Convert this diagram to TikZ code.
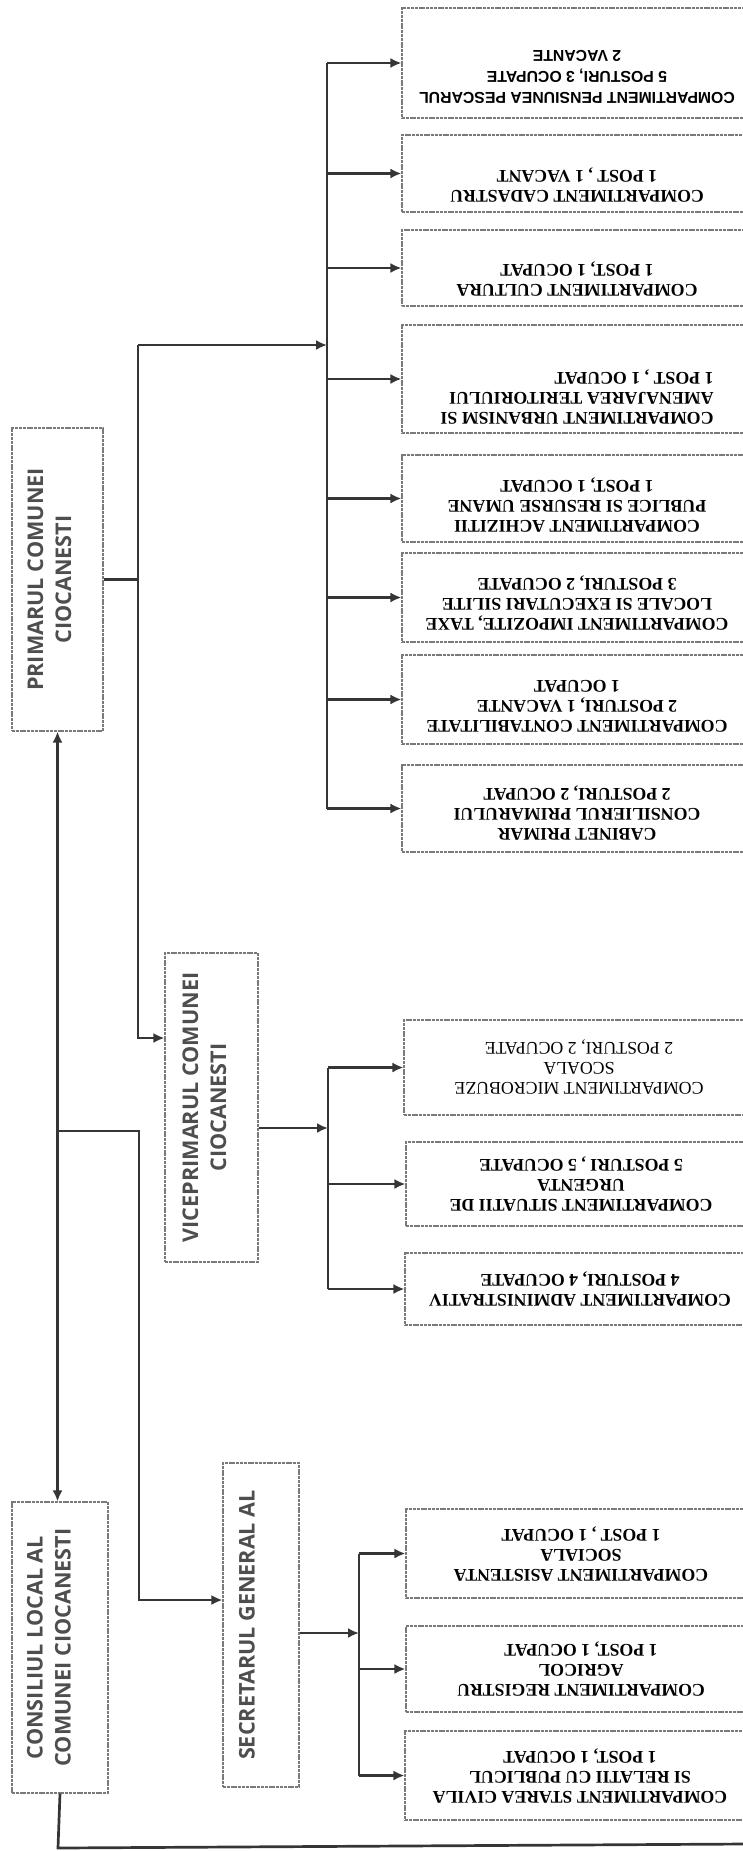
\documentclass[tikz,border=0pt]{standalone}
\usepackage{fontspec}
\setmainfont{Liberation Serif}
\newfontfamily\hdfont{Open Sans}
\newfontfamily\narrowfont{Liberation Sans}
\usetikzlibrary{arrows.meta}

\definecolor{ink}{HTML}{353535}
\definecolor{hdgrey}{HTML}{4E4E4E}
\definecolor{boxgrey}{HTML}{7A7A7A}

\begin{document}
\begin{tikzpicture}[x=0.5pt, y=-0.5pt,
  line/.style = {draw=ink, line width=1.35pt},
  conn/.style = {line, -{Latex[length=5.5pt,width=5pt]}},
  hbox/.style = {draw=boxgrey, line width=0.55pt, dash pattern=on 1.5pt off 0.4pt, inner sep=0pt},
  htxt/.style = {rotate=90, align=center, text=hdgrey, font=\hdfont\bfseries\fontsize{10.8}{14}\selectfont},
  cbox/.style = {hbox, minimum width=175pt},
  ctxt/.style = {rotate=180, align=center, text=black, font=\bfseries\fontsize{8.9}{10}\selectfont}]
  \useasboundingbox (0,0) rectangle (743,1851);

  % conducere
  \node[hbox, minimum width=45.5pt, minimum height=151.5pt] (primar) at (57.5,579.5) {};
  \node[htxt] at ([xshift=-4pt]primar.center) {PRIMARUL COMUNEI\\CIOCANESTI};
  \node[hbox, minimum width=46.5pt, minimum height=154.5pt] (vice) at (211.5,1107.5) {};
  \node[htxt] at ([xshift=-3.5pt]vice.center) {VICEPRIMARUL COMUNEI\\CIOCANESTI};
  \node[hbox, minimum width=38pt, minimum height=162pt] (secr) at (261,1625) {};
  \node[htxt] at ([xshift=-7pt]secr.center) {SECRETARUL GENERAL AL};
  \node[hbox, minimum width=48pt, minimum height=145.5pt] (consil) at (60,1647.5) {};
  \node[htxt] at ([xshift=-5.5pt]consil.center) {CONSILIUL LOCAL AL\\COMUNEI CIOCANESTI};

  % compartimente primar
  \node[cbox, minimum height=55pt] (pens) at (577,63) {};
  \node[ctxt, font=\narrowfont\bfseries\fontsize{7.9}{10.5}\selectfont] at ([yshift=-7pt]pens.center) {COMPARTIMENT PENSIUNEA PESCARUL\\5 POSTURI, 3 OCUPATE\\2 VACANTE};
  \node[cbox, minimum height=38.5pt] (cada) at (577,173.5) {};
  \node[ctxt] at ([yshift=-6pt]cada.center) {COMPARTIMENT CADASTRU\\1 POST , 1 VACANT};
  \node[cbox, minimum height=38pt] (cult) at (577,268) {};
  \node[ctxt] at ([yshift=-5.5pt]cult.center) {COMPARTIMENT CULTURA\\1 POST, 1 OCUPAT};
  \node[cbox, minimum height=54pt] (urb) at (577,379) {};
  \node[ctxt, align=left] at ([yshift=-9pt]urb.center) {COMPARTIMENT URBANISM SI\\AMENAJAREA TERITORIULUI\\1 POST , 1 OCUPAT};
  \node[cbox, minimum height=43.5pt] (achiz) at (577,498.5) {};
  \node[ctxt] at ([yshift=-3.5pt]achiz.center) {COMPARTIMENT ACHIZITII\\PUBLICE SI RESURSE UMANE\\1 POST, 1 OCUPAT};
  \node[cbox, minimum height=44.5pt] (impoz) at (577,597.5) {};
  \node[ctxt] at ([yshift=-3pt]impoz.center) {COMPARTIMENT IMPOZITE, TAXE\\LOCALE SI EXECUTARI SILITE\\3 POSTURI, 2 OCUPATE};
  \node[cbox, minimum height=44.5pt] (conta) at (577,699.5) {};
  \node[ctxt] at ([yshift=-3.5pt]conta.center) {COMPARTIMENT CONTABILITATE\\2 POSTURI, 1 VACANTE\\1 OCUPAT};
  \node[cbox, minimum height=43.5pt] (cabin) at (577,808.5) {};
  \node[ctxt] at ([yshift=-2.5pt]cabin.center) {CABINET PRIMAR\\CONSILIERUL PRIMARULUI\\2 POSTURI, 2 OCUPAT};

  % compartimente viceprimar
  \node[cbox, minimum height=47.5pt] (micro) at (579,1067.5) {};
  \node[ctxt, font=\fontsize{8.9}{10}\selectfont] at (micro.center) {COMPARTIMENT MICROBUZE\\SCOALA\\2 POSTURI, 2 OCUPATE};
  \node[cbox, minimum height=42pt] (situ) at (581,1184) {};
  \node[ctxt] at (situ.center) {COMPARTIMENT SITUATII DE\\URGENTA\\5 POSTURI , 5 OCUPATE};
  \node[cbox, minimum height=36pt] (admin) at (580,1289) {};
  \node[ctxt] at (admin.center) {COMPARTIMENT ADMINISTRATIV\\4 POSTURI, 4 OCUPATE};

  % compartimente secretar
  \node[cbox, minimum height=44.5pt] (asist) at (581,1553.5) {};
  \node[ctxt] at (asist.center) {COMPARTIMENT ASISTENTA\\SOCIALA\\1 POST , 1 OCUPAT};
  \node[cbox, minimum height=43pt] (regis) at (581,1669) {};
  \node[ctxt] at (regis.center) {COMPARTIMENT REGISTRU\\AGRICOL\\1 POST, 1 OCUPAT};
  \node[cbox, minimum height=44.5pt] (stare) at (580,1775.5) {};
  \node[ctxt] at (stare.center) {COMPARTIMENT STAREA CIVILA\\SI RELATII CU PUBLICUL\\1 POST, 1 OCUPAT};

  \coordinate (pt) at (327,63);
  \coordinate (vt) at (138,345);
  \coordinate (va) at (138,1038);
  \coordinate (vb) at (328,1128);
  \coordinate (cj) at (58,1131);
  \coordinate (sj) at (139,1131);
  \coordinate (sa) at (139,1600);
  \coordinate (sb) at (359,1633);
  \coordinate (cb) at (58,1848);
  \coordinate (rb) at (745,1844);

  % primar
  \draw[line] (primar.east) -- (primar.east -| vt);
  \draw[conn] (vt) -- (vt -| pt);
  \draw[conn] (vt) -- (va) -- (va -| vice.west);
  \draw[line] (pt) -- (pt |- cabin.west);
  \foreach \n in {pens, cada, cult, urb, achiz, impoz, conta, cabin}
           {
             \draw[conn] (pt |- \n.west) -- (\n.west);
           }

  % viceprimar
  \draw[conn] (vice.east |- vb) -- (vb);
  \draw[line] (vb |- micro.west) -- (vb |- admin.west);
  \foreach \n in {micro, situ, admin}
           {
             \draw[conn] (vb |- \n.west) -- (\n.west);
           }

  % consiliu si secretar
  \draw[line, {Latex[length=5.5pt,width=5pt]}-{Latex[length=5.5pt,width=5pt]}] (primar.south) -- (primar.south |- consil.north);
  \draw[conn] (cj) -- (sj) -- (sa) -- (sa -| secr.west);
  \draw[conn] (secr.east |- sb) -- (sb);
  \draw[line] (sb |- asist.west) -- (sb |- stare.west);
  \foreach \n in {asist, regis, stare}
           {
             \draw[conn] (sb |- \n.west) -- (\n.west);
           }
  \draw[line] (consil.south) -- (cb) -- (rb);
\end{tikzpicture}
\end{document}
